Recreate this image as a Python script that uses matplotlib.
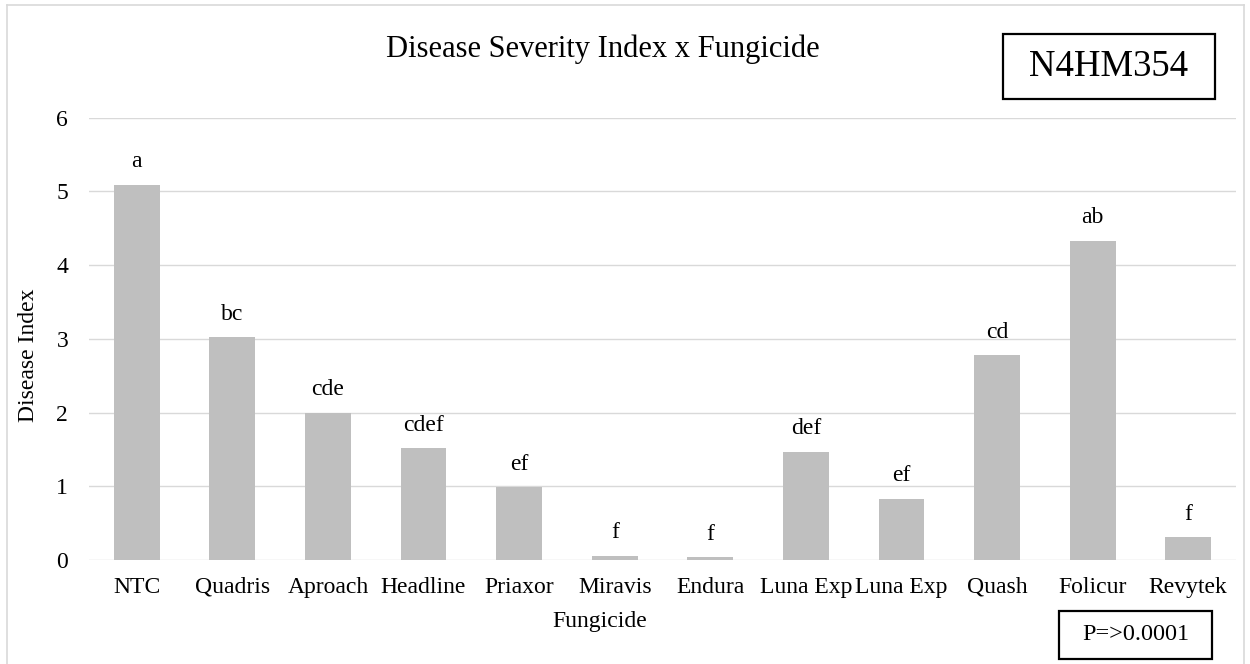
import matplotlib.pyplot as plt
from matplotlib.patches import Rectangle
from matplotlib.lines import Line2D
import numpy as np

plt.rcParams['font.family'] = ['Liberation Serif', 'DejaVu Serif']

fungicides = ["NTC", "Quadris", "Aproach", "Headline", "Priaxor", "Miravis",
              "Endura", "Luna Exp", "Luna Exp", "Quash", "Folicur", "Revytek"]
disease_index = [5.09, 3.02, 2.00, 1.52, 0.99, 0.06, 0.04, 1.47, 0.83, 2.78, 4.33, 0.31]
letters = ["a", "bc", "cde", "cdef", "ef", "f", "f", "def", "ef", "cd", "ab", "f"]

fig = plt.figure(figsize=(12.5, 6.64), dpi=100)
ax = fig.add_axes([0.0712, 0.1566, 0.9176, 0.6661])

x = np.arange(len(fungicides))
ax.bar(x, disease_index, width=0.48, color="#bfbfbf", zorder=3)
for xi, v, lab in zip(x, disease_index, letters):
    ax.annotate(lab, (xi, v), xytext=(0, 16.5), textcoords="offset points",
                ha="center", va="center", fontsize=17)

ax.set_xlim(-0.5, len(fungicides) - 0.5)
ax.set_ylim(0, 6)
ax.set_yticks(range(0, 7))
ax.set_xticks(x)
ax.set_xticklabels(fungicides)
ax.tick_params(axis="both", length=0, labelsize=17)
ax.tick_params(axis="y", pad=15)
ax.tick_params(axis="x", pad=12)
ax.grid(axis="y", color="#d9d9d9", linewidth=1.0, zorder=0)
for s in ax.spines.values():
    s.set_visible(False)

# title, axis titles
fig.text(0.482, 0.9146, "Disease Severity Index x Fungicide", ha="center", va="baseline", fontsize=22)
fig.text(0.48, 1 - 621 / 664, "Fungicide", ha="center", va="center", fontsize=17)
fig.text(29 / 1250, 1 - 355 / 664, "Disease Index", ha="center", va="center", rotation=90, fontsize=17)

# boxes
fig.patches.append(Rectangle((0.8024, 0.8509), 0.1696, 0.0979, transform=fig.transFigure,
                             fill=False, edgecolor="black", linewidth=1.6))
fig.text(0.8872, 0.8998, "N4HM354", ha="center", va="center", fontsize=26.5)
fig.patches.append(Rectangle((0.8472, 0.0075), 0.1224, 0.0723, transform=fig.transFigure,
                             fill=False, edgecolor="black", linewidth=1.6))
fig.text(0.9084, 0.0437, "P=>0.0001", ha="center", va="center", fontsize=17.5)

# chart border
bx0, bx1, by1 = 7 / 1250, 1244 / 1250, 1 - 5 / 664
for xs, ys in [([bx0, bx0], [0, by1]), ([bx0, bx1], [by1, by1]), ([bx1, bx1], [by1, 0])]:
    fig.lines.append(Line2D(xs, ys, transform=fig.transFigure, color="#d9d9d9", linewidth=1.2))

fig.savefig("out.png", dpi=100)
